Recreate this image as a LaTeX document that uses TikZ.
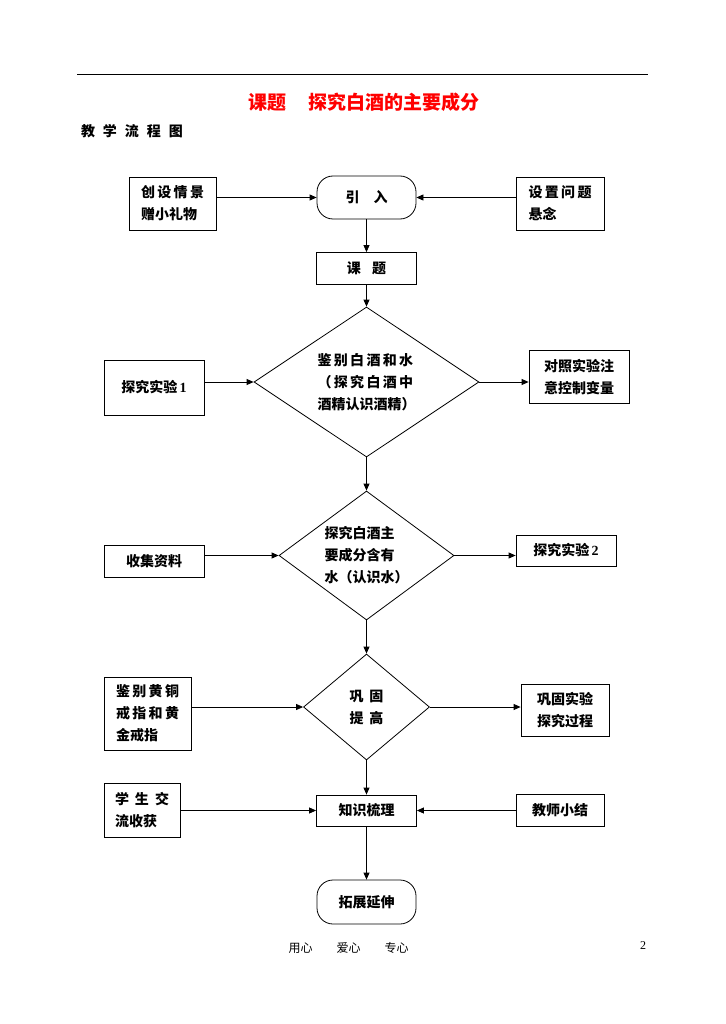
\documentclass[tikz,border=0pt]{standalone}
\usepackage{fontspec}
\setmainfont{Noto Sans CJK SC}
\newfontfamily\latinserif{Liberation Serif}
\usetikzlibrary{shapes.geometric,arrows.meta}

\begin{document}
\begin{tikzpicture}[x=1pt,y=-1pt,
  every node/.style={inner sep=0pt,font=\bfseries\fontsize{14}{22}\selectfont},
  box/.style={draw,line width=0.8pt,align=left},
  roundbox/.style={box,rounded corners=16pt},
  decision/.style={draw,line width=0.8pt,diamond,align=left},
  arr/.style={line width=0.8pt,-{Triangle[length=7pt,width=6pt]}}]
\useasboundingbox (0,0) rectangle (725,1024);

\draw[line width=1pt] (77,75) -- (648,75);
\node[text=red,font=\bfseries\fontsize{19}{19}\selectfont] (title) at (364,102) {课题\hspace{1.2em}探究白酒的主要成分};
\node (chart) at (132,131) {教\hspace{8pt}学\hspace{8pt}流\hspace{8pt}程\hspace{8pt}图};

\node[roundbox,minimum width=99pt,minimum height=43pt] (intro) at (366.5,197.5) {引\hspace{1em}入};
\node[box,minimum width=87pt,minimum height=53pt] (scene) at (172.5,203.5) {创\,设\,情\,景\\赠小礼物};
\node[box,minimum width=88pt,minimum height=53pt] (question) at (560,203.5) {设\,置\,问\,题\\悬念};
\node[box,minimum width=100pt,minimum height=32pt] (topic) at (366.5,268.5) {课\hspace{0.8em}题};

\node[decision,aspect=1.5,minimum width=225pt,minimum height=150pt] (judge) at (366.5,382) {鉴\,别\,白\,酒\,和\,水\\（\,探\,究\,白\,酒\,中\\酒精认识酒精）};
\node[box,minimum width=100pt,minimum height=55pt] (exp1) at (154,387.5) {探究实验\,{\latinserif 1}};
\node[box,minimum width=100pt,minimum height=53pt] (control) at (579,377) {对照实验注\\意控制变量};

\node[decision,aspect=1.36,minimum width=175pt,minimum height=129pt] (water) at (366.5,555.5) {探究白酒主\\要成分含有\\水（认识水）};
\node[box,minimum width=100pt,minimum height=32pt] (collect) at (154,561) {收集资料};
\node[box,minimum width=100pt,minimum height=31pt] (exp2) at (566,550.5) {探究实验\,{\latinserif 2}};

\node[decision,aspect=1.19,minimum width=126pt,minimum height=106pt] (consol) at (366.5,707) {巩\hspace{6pt}固\\提\hspace{6pt}高};
\node[box,minimum width=87pt,minimum height=73pt] (brass) at (147.5,713.5) {鉴\,别\,黄\,铜\\戒\,指\,和\,黄\\金戒指};
\node[box,minimum width=88pt,minimum height=52pt] (review) at (565,710) {巩固实验\\探究过程};

\node[box,minimum width=100pt,minimum height=31pt] (sum) at (366.5,810.5) {知识梳理};
\node[box,minimum width=76pt,minimum height=54pt] (student) at (142,810) {学\hspace{6pt}生\hspace{6pt}交\\流收获};
\node[box,minimum width=88pt,minimum height=32pt] (teacher) at (560,810) {教师小结};
\node[roundbox,minimum width=99pt,minimum height=44pt] (ext) at (366.5,902) {拓展延伸};

\draw[arr] (scene.east |- intro.west) -- (intro.west);
\draw[arr] (question.west |- intro.east) -- (intro.east);
\draw[arr] (intro) -- (topic);
\draw[arr] (topic) -- (judge.north);
\draw[arr] (exp1.east |- judge.west) -- (judge.west);
\draw[arr] (judge.east) -- (judge.east -| control.west);
\draw[arr] (judge.south) -- (water.north);
\draw[arr] (collect.east |- water.west) -- (water.west);
\draw[arr] (water.east) -- (water.east -| exp2.west);
\draw[arr] (water.south) -- (consol.north);
\draw[arr] (brass.east |- consol.west) -- (consol.west);
\draw[arr] (consol.east) -- (consol.east -| review.west);
\draw[arr] (consol.south) -- (sum.north);
\draw[arr] (student.east |- sum.west) -- (sum.west);
\draw[arr] (teacher.west |- sum.east) -- (sum.east);
\draw[arr] (sum) -- (ext);

\node[font=\mdseries\fontsize{12}{12}\selectfont] (motto) at (348.5,948) {用心\hspace{2em}爱心\hspace{2em}专心};
\node[font=\latinserif\fontsize{12}{12}\selectfont] (page) at (643,946) {2};
\end{tikzpicture}
\end{document}
